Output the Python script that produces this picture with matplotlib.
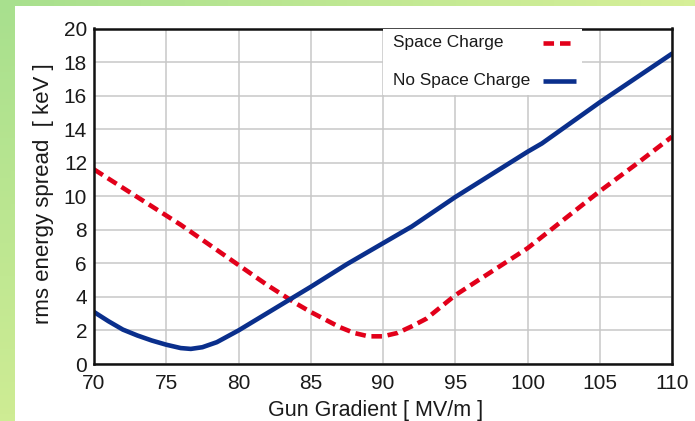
import numpy as np
import matplotlib
matplotlib.use("Agg")
import matplotlib.pyplot as plt
from matplotlib.patches import Rectangle
from matplotlib.lines import Line2D

# ---- data ----
gradient_sc = [70, 72, 74, 76, 78, 80, 82, 84, 85, 86, 87, 88, 89, 90, 91, 92, 93,
               95, 97.5, 100, 102.5, 105, 107.5, 110]
spread_sc = [11.6, 10.5, 9.4, 8.3, 7.1, 5.9, 4.7, 3.6, 3.1, 2.65, 2.2, 1.85, 1.65,
             1.65, 1.85, 2.25, 2.7, 4.1, 5.5, 6.9, 8.6, 10.3, 11.9, 13.55]

gradient_nsc = [70, 71, 72, 73, 74, 75, 76, 76.7, 77.5, 78.5, 80, 82.5, 85, 87.5,
                90, 92, 95, 97.5, 100, 101, 105, 110]
spread_nsc = [3.1, 2.55, 2.05, 1.7, 1.4, 1.15, 0.95, 0.9, 1.0, 1.3, 2.0, 3.3, 4.6,
              5.95, 7.2, 8.2, 9.95, 11.3, 12.65, 13.15, 15.6, 18.5]

x_ticks = [70, 75, 80, 85, 90, 95, 100, 105, 110]
y_ticks = [0, 2, 4, 6, 8, 10, 12, 14, 16, 18, 20]
label_sc = "Space Charge"
label_nsc = "No Space Charge"
xlabel = "Gun Gradient [ MV/m ]"
ylabel = "rms energy spread  [ keV ]"

plt.rcParams['font.family'] = ['Liberation Sans', 'DejaVu Sans']

W, H = 695, 421
fig = plt.figure(figsize=(W / 100, H / 100), dpi=100)

# background gradient
bg = fig.add_axes([0, 0, 1, 1], zorder=-10)
tl = np.array([168, 224, 142]) / 255
tr = np.array([214, 239, 152]) / 255
bl = np.array([206, 236, 148]) / 255
br = np.array([220, 240, 150]) / 255
u = np.linspace(0, 1, 64)[None, :, None]
v = np.linspace(0, 1, 64)[:, None, None]
img = (1 - v) * ((1 - u) * tl + u * tr) + v * ((1 - u) * bl + u * br)
bg.imshow(img, extent=[0, 1, 0, 1], aspect='auto', origin='upper')
bg.add_patch(Rectangle((15 / W, 0), 1, (H - 6) / H, facecolor='white',
                       edgecolor='none', transform=bg.transAxes))
bg.set_xlim(0, 1)
bg.set_ylim(0, 1)
bg.axis('off')

AX_L, AX_R, AX_T, AX_B = 94, 672, 28.5, 364
ax = fig.add_axes([AX_L / W, (H - AX_B) / H, (AX_R - AX_L) / W, (AX_B - AX_T) / H])
ax.set_facecolor('white')

RED = '#e2001a'
BLUE = '#0a2f8c'
LW = 3.3
DASH = (2.3, 1.25)

l1, = ax.plot(gradient_sc, spread_sc, color=RED, lw=LW, solid_capstyle='butt')
l1.set_dashes(DASH)
l2, = ax.plot(gradient_nsc, spread_nsc, color=BLUE, lw=LW, solid_capstyle='round')

ax.set_xlim(70, 110)
ax.set_ylim(0, 20)
ax.set_xticks(x_ticks)
ax.set_yticks(y_ticks)
ax.grid(True, color='#c8c8c8', lw=1.1)
ax.set_axisbelow(True)
ax.tick_params(length=0, labelsize=15, colors='#1a1a1a')
ax.tick_params(axis='x', pad=7)
ax.tick_params(axis='y', pad=5)
for s in ax.spines.values():
    s.set_linewidth(1.8)
    s.set_color('#111111')


def axx(px):
    return (px - AX_L) / (AX_R - AX_L)


def axy(py):
    return (AX_B - py) / (AX_B - AX_T)


ax.set_xlabel(xlabel, fontsize=15.5, color='#1a1a1a')
ax.xaxis.set_label_coords(axx(376), axy(400))
ax.set_ylabel(ylabel, fontsize=16, color='#1a1a1a')
ax.yaxis.set_label_coords(axx(54), axy(193.5))

# manual legend (pixel positions converted to axes fractions)
ax.add_patch(Rectangle((axx(383), axy(95)), axx(582) - axx(383), axy(AX_T) - axy(95),
                       facecolor='white', edgecolor='none', transform=ax.transAxes,
                       zorder=4))
for label, py, color, dashed in [(label_sc, 42.5, RED, True),
                                 (label_nsc, 80.5, BLUE, False)]:
    ax.text(axx(393), axy(py), label, transform=ax.transAxes, fontsize=12.4,
            color='#1a1a1a', ha='left', va='center', zorder=5)
    ln = Line2D([axx(543), axx(576)], [axy(py), axy(py)], transform=ax.transAxes,
                color=color, lw=LW, zorder=5, solid_capstyle='butt')
    if dashed:
        ln.set_dashes((2.3, 1.3))
    ax.add_line(ln)

fig.savefig("out.png", dpi=100)
